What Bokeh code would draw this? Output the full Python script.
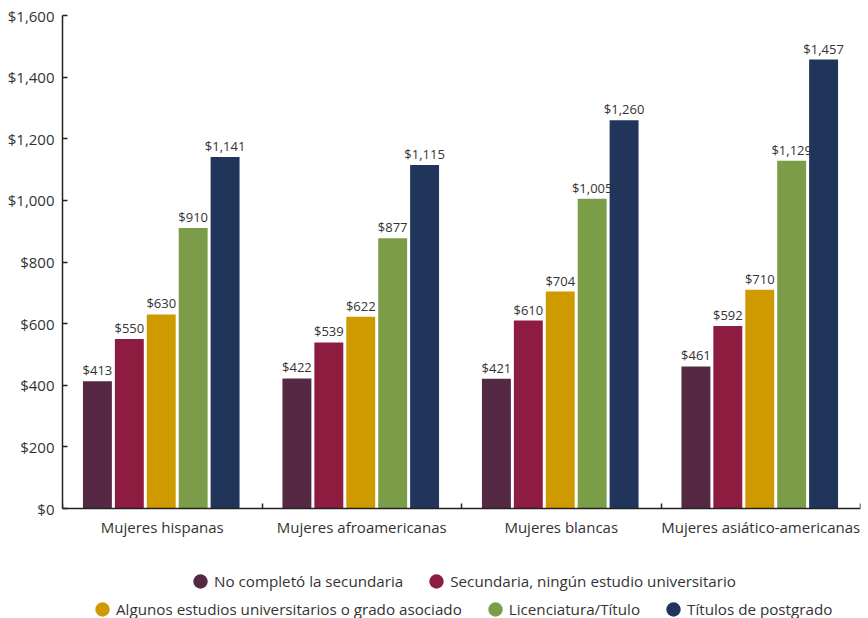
from bokeh.plotting import figure
from bokeh.models import (Range1d, FixedTicker, NumeralTickFormatter, Legend, LegendItem,
                          ColumnDataSource)
from bokeh.core.properties import value
from bokeh.embed import file_html
from bokeh.resources import INLINE

categories = ["Mujeres hispanas", "Mujeres afroamericanas", "Mujeres blancas",
              "Mujeres asiático-americanas"]
series_names = ["No completó la secundaria",
                "Secundaria, ningún estudio universitario",
                "Algunos estudios universitarios o grado asociado",
                "Licenciatura/Título",
                "Títulos de postgrado"]
no_secundaria = [413, 422, 421, 461]
secundaria = [550, 539, 610, 592]
algunos_estudios = [630, 622, 704, 710]
licenciatura = [910, 877, 1005, 1129]
postgrado = [1141, 1115, 1260, 1457]
series_values = [no_secundaria, secundaria, algunos_estudios, licenciatura, postgrado]
colors = ["#552944", "#8E1B40", "#CF9A00", "#7B9D48", "#213459"]
y_ticks = [0, 200, 400, 600, 800, 1000, 1200, 1400, 1600]
y_max = 1600

FONT = "Open Sans"
TXT = "#333333"

# layout (pixels): plotting area top/bottom, space kept under the value axis
W, H = 868, 618
TOP, AXIS_Y = 15, 508
below_px = H - AXIS_Y
y_start = -y_max * below_px / (AXIS_Y - TOP)

p = figure(width=W, height=H, output_backend="svg", toolbar_location=None,
           x_range=Range1d(0, len(categories)), y_range=Range1d(y_start, y_max),
           min_border_left=62, min_border_right=8, min_border_top=TOP, min_border_bottom=0)
p.outline_line_color = None
p.xgrid.visible = False
p.ygrid.visible = False

n = len(series_values)
pitch = 0.16
bar_w = 0.145
for k, vals in enumerate(series_values):
    xs = [i + 0.495 + (k - (n - 1) / 2) * pitch for i in range(len(categories))]
    src = ColumnDataSource(dict(x=xs, top=vals, lab=[f"${v:,}" for v in vals]))
    p.vbar(x="x", top="top", bottom=0, width=bar_w, source=src,
           fill_color=colors[k], line_color=None)
    p.text(x="x", y="top", text="lab", source=src, text_align="center",
           text_baseline="bottom", y_offset=-2, text_font=value(FONT),
           text_font_size="13px", text_color=TXT)

# y axis
ya = p.yaxis[0]
ya.bounds = (0, y_max)
ya.ticker = FixedTicker(ticks=y_ticks)
ya.formatter = NumeralTickFormatter(format="$0,0")
ya.major_tick_in = 5
ya.major_tick_out = 0
ya.minor_tick_line_color = None
ya.axis_line_color = "#222222"
ya.axis_line_width = 1.5
ya.major_tick_line_color = "#222222"
ya.major_tick_line_width = 1.5
ya.major_label_text_font = FONT
ya.major_label_text_font_size = "15px"
ya.major_label_text_color = TXT
ya.major_label_standoff = 8

# x axis, drawn at value 0
xa = p.xaxis[0]
xa.fixed_location = 0
centers = [i + 0.5 for i in range(len(categories))]
bounds = [i for i in range(len(categories) + 1)]
xa.ticker = FixedTicker(ticks=centers, minor_ticks=bounds)
xa.major_label_overrides = {c: lab for c, lab in zip(centers, categories)}
xa.major_tick_line_color = None
xa.minor_tick_in = 5
xa.minor_tick_out = 0
xa.minor_tick_line_color = "#222222"
xa.minor_tick_line_width = 1.5
xa.axis_line_color = "#222222"
xa.axis_line_width = 1.5
xa.major_label_text_font = FONT
xa.major_label_text_font_size = "15px"
xa.major_label_text_color = TXT
xa.major_label_standoff = 2

# legend swatches: round ellipses with no visible data
nan = float("nan")
swatches = [p.ellipse(x=[nan], y=[nan], width=10, height=10, width_units="screen",
                      height_units="screen", fill_color=c, line_color=None)
            for c in colors]
items = [LegendItem(label=name, renderers=[r]) for name, r in zip(series_names, swatches)]


def make_legend(its, loc):
    return Legend(items=its, orientation="horizontal", location=loc,
                  glyph_width=18, glyph_height=18, label_height=20,
                  label_standoff=5, spacing=24, padding=0, margin=0,
                  border_line_color=None, background_fill_alpha=0,
                  label_text_font=FONT, label_text_font_size="15.2px",
                  label_text_color=TXT)


p.add_layout(make_legend(items[:2], (129, 27)))
p.add_layout(make_legend(items[2:], (31, -1)))

open("out.html", "w").write(file_html(p, INLINE))
